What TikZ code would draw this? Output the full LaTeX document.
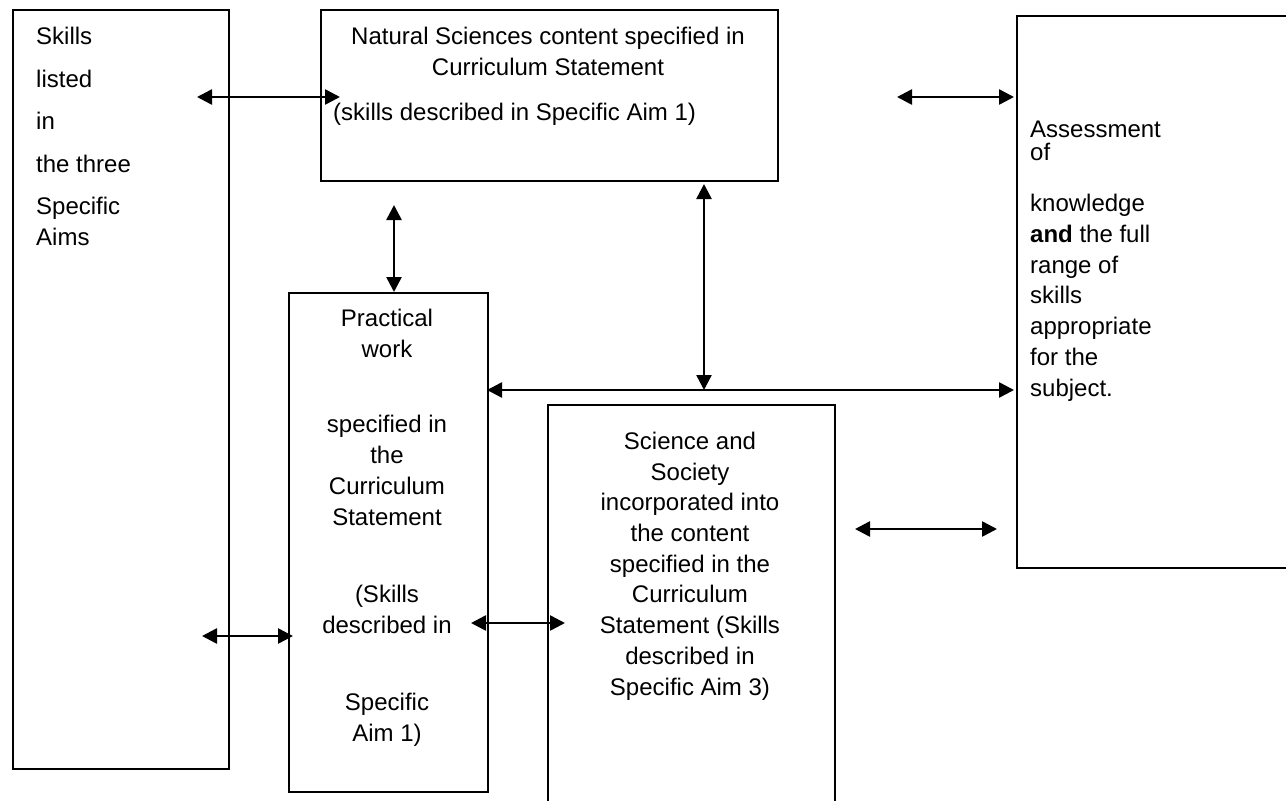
\documentclass[tikz,border=0pt]{standalone}
\usepackage{fontspec}
\setmainfont{Liberation Sans}
\usetikzlibrary{arrows.meta}
\tikzset{
  box/.style={draw, line width=1.8pt, inner sep=0pt, anchor=north west},
  txt/.style={inner sep=0pt, anchor=base, font=\fontsize{24}{30.7}\selectfont},
  txtl/.style={txt, anchor=base west, align=left},
  txtc/.style={txt, align=center},
  link/.style={line width=2.6pt, {Triangle[length=15pt,width=15pt]}-{Triangle[length=15pt,width=15pt]}}
}
\begin{document}
\begin{tikzpicture}[x=1pt,y=-1pt]
\useasboundingbox (0,0) rectangle (1286,801);
% boxes
\node[box, minimum width=216pt, minimum height=759pt] (L) at (12,9) {};
\node[box, minimum width=457pt, minimum height=171pt] (T) at (320,9) {};
\node[box, minimum width=300pt, minimum height=552pt] (R) at (1016,15) {};
\node[box, minimum width=199pt, minimum height=499pt] (P) at (288,292) {};
\node[box, minimum width=287pt, minimum height=420pt] (S) at (547,404) {};
% texts (base anchor = baseline of the last line)
\node[txtl] (l1) at (36,44) {Skills};
\node[txtl] (l2) at (36,87) {listed};
\node[txtl] (l3) at (36,129) {in};
\node[txtl] (l4) at (36,172) {the three};
\node[txtl] (l5) at (36,245) {Specific\\Aims};
\node[txtc] (t1) at (548,75) {Natural Sciences content specified in\\Curriculum Statement};
\node[txtl] (t2) at (333,120) {(skills described in Specific Aim 1)};
\node[txtl] (r1) at (1030,137) {Assessment};
\node[txtl] (r2) at (1030,160) {of};
\node[txtl] (r3) at (1030,396) {knowledge\\\textbf{and} the full\\range of\\skills\\appropriate\\for the\\subject.};
\node[txtc] (p1) at (387,357) {Practical\\work};
\node[txtc] (p2) at (387,525) {specified in\\the\\Curriculum\\Statement};
\node[txtc] (p3) at (387,633) {(Skills\\described in};
\node[txtc] (p4) at (387,741) {Specific\\Aim 1)};
\node[txtc] (s1) at (690,695) {Science and\\Society\\incorporated into\\the content\\specified in the\\Curriculum\\Statement (Skills\\described in\\Specific Aim 3)};
% connector ends
\coordinate (a1) at (197,97);  \coordinate (b1) at (340,97);
\coordinate (a2) at (897,97);  \coordinate (b2) at (1014,97);
\coordinate (a3) at (394,205);
\coordinate (a4) at (704,184); \coordinate (b4) at (704,390);
\coordinate (a5) at (487,390); \coordinate (b5) at (1014,390);
\coordinate (a6) at (202,636); \coordinate (b6) at (293,636);
\coordinate (a7) at (471,623); \coordinate (b7) at (565,623);
\coordinate (a8) at (855,529); \coordinate (b8) at (997,529);
% connectors
\draw[link] (a1) -- (b1);
\draw[link] (a2) -- (b2);
\draw[link] (a3) -- (a3 |- P.north);
\draw[link] (a4) -- (b4);
\draw[link] (a5) -- (b5);
\draw[link] (a6) -- (b6);
\draw[link] (a7) -- (b7);
\draw[link] (a8) -- (b8);
\end{tikzpicture}
\end{document}
